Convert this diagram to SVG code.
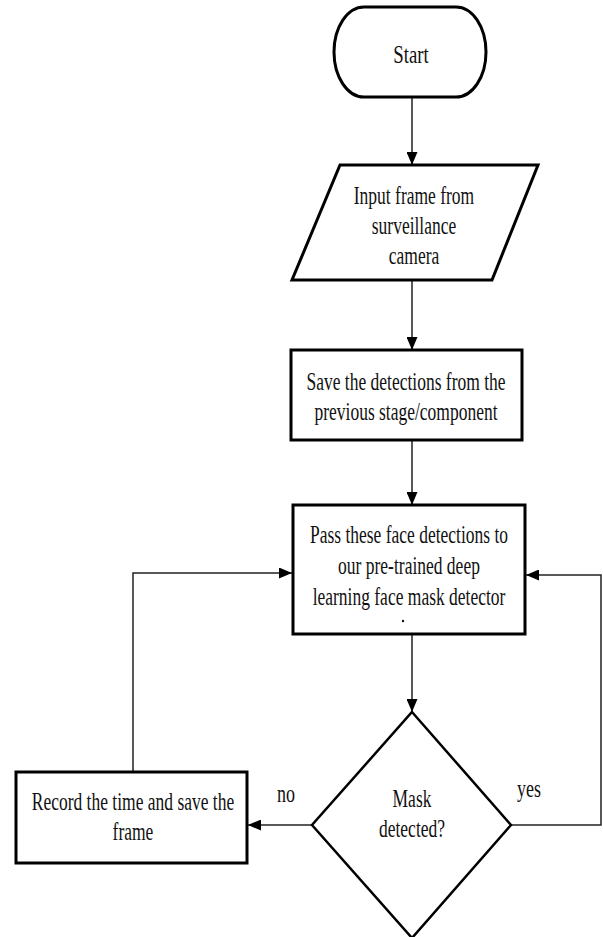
<svg xmlns="http://www.w3.org/2000/svg" width="603" height="937" viewBox="0 0 603 937">
<style>
.bg{fill:#ffffff}
.box{fill:#ffffff;stroke:#000000;stroke-width:3}
.dia{fill:#ffffff;stroke:#000000;stroke-width:2.5}
.ln{fill:none;stroke:#222222;stroke-width:1.5}
.t{font-family:'Liberation Serif','Times New Roman',serif;font-size:25px;fill:#111111;text-anchor:middle}
</style>
<defs>
<marker id="ah" markerUnits="userSpaceOnUse" markerWidth="13" markerHeight="11" refX="13" refY="5.5" orient="auto">
<path d="M0,0 L13,5.5 L0,11 z" fill="#000000"/>
</marker>
</defs>
<rect class="bg" x="0" y="0" width="603" height="937"/>
<g id="connectors">
<line class="ln" x1="412" y1="97" x2="412" y2="165" marker-end="url(#ah)"/>
<line class="ln" x1="412" y1="280" x2="412" y2="350" marker-end="url(#ah)"/>
<line class="ln" x1="412" y1="440" x2="412" y2="505" marker-end="url(#ah)"/>
<line class="ln" x1="412" y1="634" x2="412" y2="712" marker-end="url(#ah)"/>
<line class="ln" x1="312" y1="825" x2="248" y2="825" marker-end="url(#ah)"/>
<polyline class="ln" points="133,772 133,573 292,573" marker-end="url(#ah)"/>
<polyline class="ln" points="511,825 601,825 601,575 526,575" marker-end="url(#ah)"/>
<text class="t" transform="translate(286,802) scale(0.72,1)">no</text>
<text class="t" transform="translate(529,797) scale(0.72,1)">yes</text>
</g>
<g id="start">
<rect class="box" x="334" y="7" width="152" height="90" rx="30" ry="45"/>
<text class="t" transform="translate(411,63) scale(0.75,1)">Start</text>
</g>
<g id="input">
<polygon class="box" points="340,165 538,165 492,280 292,280"/>
<g transform="translate(414,0) scale(0.7,1)">
<text class="t" x="0" y="204">Input frame from</text>
<text class="t" x="0" y="234">surveillance</text>
<text class="t" x="0" y="264">camera</text>
</g>
</g>
<g id="save">
<rect class="box" x="291" y="350" width="231" height="90"/>
<g transform="translate(406,0) scale(0.7,1)">
<text class="t" x="0" y="390">Save the detections from the</text>
<text class="t" x="0" y="420">previous stage/component</text>
</g>
</g>
<g id="pass">
<rect class="box" x="293" y="505" width="232" height="129"/>
<g transform="translate(409,0) scale(0.7,1)">
<text class="t" x="0" y="543">Pass these face detections to</text>
<text class="t" x="0" y="574">our pre-trained deep</text>
<text class="t" x="0" y="605">learning face mask detector</text>
</g>
<circle cx="403" cy="621" r="1.2" fill="#111111"/>
</g>
<g id="decision">
<polygon class="dia" points="412,712 511,825 412,938 312,825"/>
<g transform="translate(412,0) scale(0.7,1)">
<text class="t" x="0" y="807">Mask</text>
<text class="t" x="0" y="837">detected?</text>
</g>
</g>
<g id="record">
<rect class="box" x="16" y="772" width="231" height="91"/>
<g transform="translate(133,0) scale(0.7,1)">
<text class="t" x="0" y="810">Record the time and save the</text>
<text class="t" x="0" y="840">frame</text>
</g>
</g>
</svg>
